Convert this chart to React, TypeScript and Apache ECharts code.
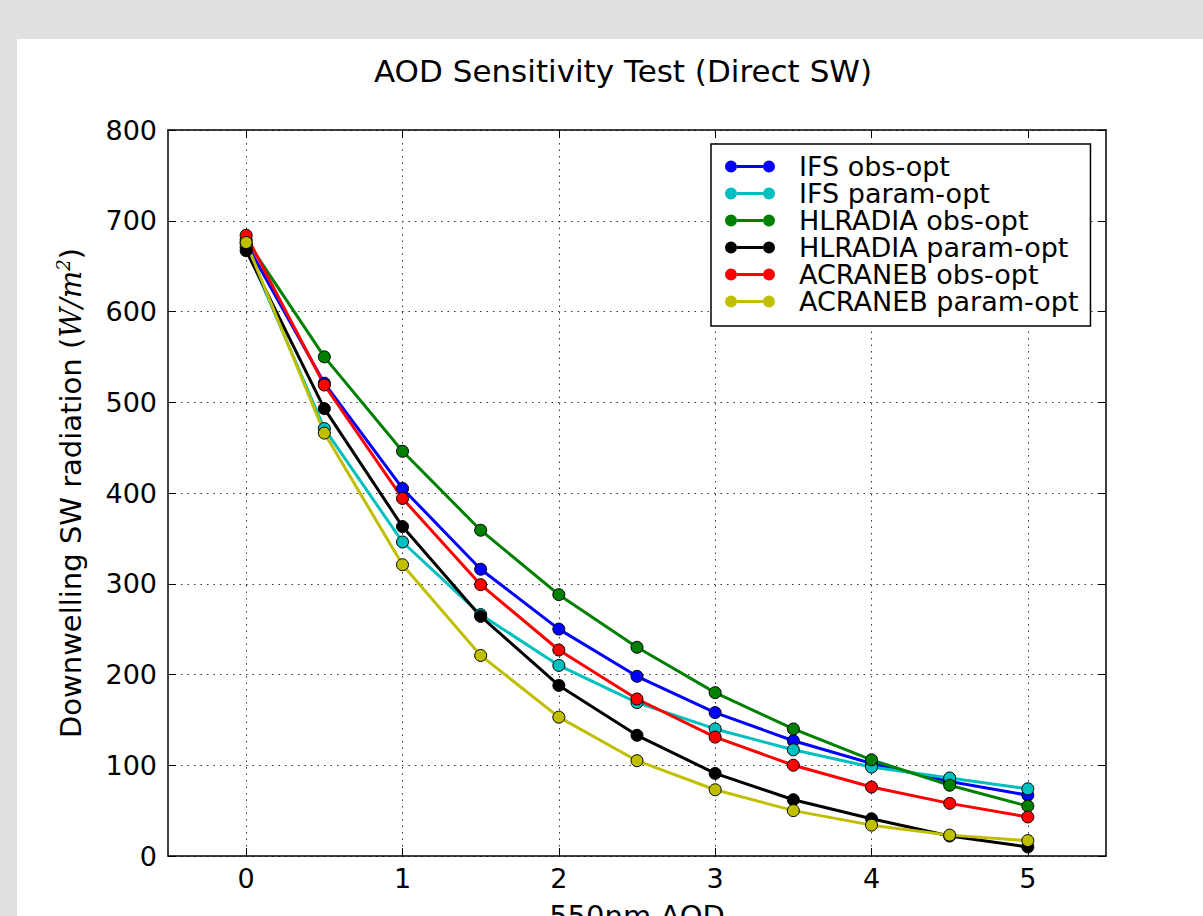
import React, { useEffect, useRef } from "react";
import * as echarts from "echarts";

const aod = [0, 0.5, 1, 1.5, 2, 2.5, 3, 3.5, 4, 4.5, 5];
const xTicks = [0, 1, 2, 3, 4, 5];

const seriesNames = [
  "IFS obs-opt",
  "IFS param-opt",
  "HLRADIA obs-opt",
  "HLRADIA param-opt",
  "ACRANEB obs-opt",
  "ACRANEB param-opt",
];
const seriesColors = ["#0000ff", "#00bfbf", "#008000", "#000000", "#ff0000", "#bfbf00"];

const ifsObs = [675, 521, 405, 316, 250, 198, 158, 127, 102, 82, 67];
const ifsParam = [671, 471, 346, 266, 210, 169, 140, 117, 98, 86, 74];
const hlradiaObs = [679, 550, 446, 359, 288, 230, 180, 140, 106, 78, 55];
const hlradiaParam = [667, 493, 363, 264, 188, 133, 91, 62, 41, 22, 10];
const acranebObs = [684, 519, 394, 299, 227, 173, 131, 100, 76, 58, 43];
const acranebParam = [676, 466, 321, 221, 153, 105, 73, 50, 34, 23, 17];

const seriesValues = [ifsObs, ifsParam, hlradiaObs, hlradiaParam, acranebObs, acranebParam];

const legendIcon =
  "path://M0,6A6,6,0,1,1,12,6A6,6,0,1,1,0,6Z M12,4.5L38,4.5L38,7.5L12,7.5Z M38,6A6,6,0,1,1,50,6A6,6,0,1,1,38,6Z";

const FONT = "DejaVu Sans";

export default function App() {
  const ref = useRef<HTMLDivElement>(null);

  useEffect(() => {
    if (!ref.current) return;
    const chart = echarts.init(ref.current, null, { renderer: "svg" });

    const gridLine = { show: true, lineStyle: { color: "#333", width: 1, type: [1.5, 5] as any } };
    const axisLine = { show: true, onZero: false, lineStyle: { color: "#000", width: 1.5 } };
    const tick = { show: true, inside: true, length: 8, lineStyle: { color: "#000", width: 1 } };

    chart.setOption({
      animation: false,
      graphic: [
        {
          type: "text",
          x: 623,
          y: 71,
          style: {
            text: "AOD Sensitivity Test (Direct SW)",
            font: `31px '${FONT}'`,
            fill: "#000",
            textAlign: "center",
            textVerticalAlign: "middle",
          },
        },
      ],
      grid: {
        left: 168,
        top: 130,
        right: 97,
        bottom: 60,
        containLabel: false,
        outerBoundsMode: "none",
      },
      legend: {
        orient: "vertical",
        left: 711,
        top: 144,
        padding: [9, 12, 11, 14],
        itemGap: 0,
        itemWidth: 50,
        itemHeight: 12,
        icon: legendIcon,
        backgroundColor: "#fff",
        borderColor: "#000",
        borderWidth: 1.5,
        borderRadius: 0,
        selectedMode: false,
        itemStyle: { borderWidth: 0 },
        textStyle: {
          fontFamily: FONT,
          fontSize: 27,
          lineHeight: 27,
          color: "#000",
          padding: [0, 0, 0, 19],
        },
        data: seriesNames,
      },
      xAxis: [
        {
          type: "value",
          min: -0.5,
          max: 5.5,
          position: "bottom",
          name: "550nm AOD",
          nameLocation: "middle",
          nameGap: 45,
          nameTextStyle: { fontFamily: FONT, fontSize: 29, color: "#000" },
          axisLine,
          axisTick: { ...tick, customValues: xTicks },
          axisLabel: {
            customValues: xTicks,
            margin: 9,
            fontFamily: FONT,
            fontSize: 27,
            color: "#000",
          },
          splitLine: gridLine,
        },
        {
          type: "value",
          min: -0.5,
          max: 5.5,
          position: "top",
          axisLine,
          axisTick: { ...tick, customValues: xTicks },
          axisLabel: { show: false, customValues: xTicks },
          splitLine: { show: false },
        },
      ],
      yAxis: [
        {
          type: "value",
          min: 0,
          max: 800,
          interval: 100,
          position: "left",
          name: "Downwelling SW radiation ({i|W/m}{s|2})",
          nameLocation: "middle",
          nameGap: 80,
          nameTextStyle: {
            fontFamily: FONT,
            fontSize: 29,
            color: "#000",
            lineHeight: 34,
            rich: {
              i: { fontFamily: "DejaVu Serif", fontStyle: "italic", fontSize: 29, lineHeight: 34, color: "#000" },
              s: { fontFamily: "DejaVu Serif", fontStyle: "italic", fontSize: 18, lineHeight: 20, verticalAlign: "top", color: "#000" },
            },
          },
          axisLine,
          axisTick: tick,
          axisLabel: { margin: 11, fontFamily: FONT, fontSize: 27, color: "#000" },
          splitLine: gridLine,
        },
        {
          type: "value",
          min: 0,
          max: 800,
          interval: 100,
          position: "right",
          axisLine,
          axisTick: tick,
          axisLabel: { show: false },
          splitLine: { show: false },
        },
      ],
      series: seriesNames.map((name, k) => ({
        name,
        type: "line",
        xAxisIndex: 0,
        yAxisIndex: 0,
        data: aod.map((x, i) => [x, seriesValues[k][i]]),
        symbol: "circle",
        symbolSize: 12,
        showSymbol: true,
        color: seriesColors[k],
        lineStyle: { color: seriesColors[k], width: 3 },
        itemStyle: { color: seriesColors[k], borderColor: "#000", borderWidth: 1 },
        emphasis: { disabled: true },
      })),
    });

    return () => chart.dispose();
  }, []);

  return (
    <div
      style={{
        position: "fixed",
        left: 0,
        top: 0,
        width: 1203,
        height: 916,
        background: "#e0e0e0",
        overflow: "hidden",
      }}
    >
      <div
        style={{
          position: "absolute",
          left: 17,
          top: 39,
          width: 1186,
          height: 877,
          background: "#fff",
        }}
      />
      <div ref={ref} style={{ position: "absolute", left: 0, top: 0, width: 1203, height: 916 }} />
    </div>
  );
}
